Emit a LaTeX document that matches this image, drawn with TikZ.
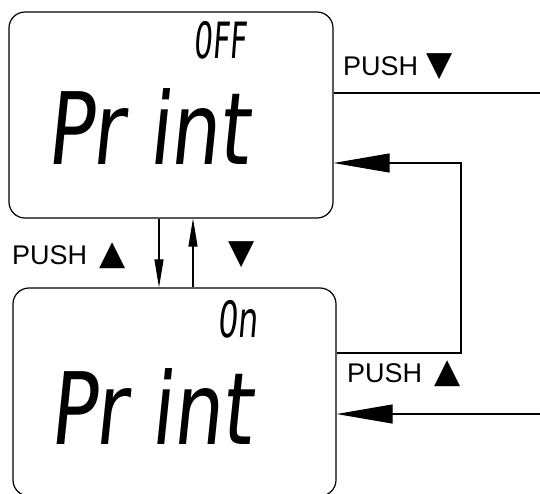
\documentclass[tikz,border=0pt]{standalone}
\usepackage{fontspec}
\setmainfont{Liberation Sans}
\newfontfamily\lcdfont[FakeSlant=0.12]{DejaVu Sans Condensed}
\newfontfamily\symfont{DejaVu Sans}
\usetikzlibrary{arrows.meta}
\newcommand{\symtri}[1]{{\symfont\fontsize{34}{34}\selectfont #1}}
\begin{document}
\begin{tikzpicture}[x=1pt,y=-1pt,
  lcd/.style={draw=black, line width=1.2pt, rounded corners=16pt, inner sep=0pt},
  conn/.style={line width=1.1pt},
  bigarrow/.style={conn, -{Triangle[length=56pt,width=19pt]}},
  smallarrow/.style={conn, -{Triangle[length=28pt,width=9pt]}},
  lbl/.style={font=\fontsize{27}{27}\selectfont, inner sep=0pt},
  big/.style={font=\lcdfont\fontsize{100}{100}\selectfont, inner sep=0pt},
  small/.style={font=\lcdfont\fontsize{50}{50}\selectfont, inner sep=0pt}]
\useasboundingbox (0,0) rectangle (540,493);
\node[lcd, minimum width=324pt, minimum height=206pt] (top) at (171,115) {};
\node[lcd, minimum width=323pt, minimum height=208pt] (bot) at (174.5,392) {};
% display texts
\node[small] (off) at (220,40) {\scalebox{0.65}[1]{0FF}};
\node[big] (p1) at (148,126.5) {\scalebox{0.86}[1]{Pr int}};
\node[small] (on) at (237,319) {\scalebox{0.7}[1]{0n}};
\node[big] (p2) at (150.5,406.5) {\scalebox{0.86}[1]{Pr int}};
% labels
\node[lbl, anchor=west] (l1) at (343,67) {PUSH\hspace{8pt}\symtri{▼}};
\node[lbl, anchor=west] (l2) at (12,256) {PUSH\hspace{12pt}\symtri{▲}};
\node[lbl] (l3) at (242,255) {\symtri{▼}};
\node[lbl, anchor=west] (l4) at (347,374) {PUSH\hspace{12pt}\symtri{▲}};
% coordinates
\coordinate (e1) at (540,93);
\coordinate (c1) at (461,353);
\coordinate (c2) at (461,163);
\coordinate (e2) at (540,414);
% connectors
\draw[conn] (top.east |- e1) -- (e1);
\draw[bigarrow] (bot.east |- c1) -- (c1) -- (c2) -- (top.east |- c2);
\draw[bigarrow] (e2) -- (bot.east |- e2);
\draw[smallarrow] (top.south -| 159,0) -- (bot.north -| 159,0);
\draw[smallarrow] (bot.north -| 193,0) -- (top.south -| 193,0);
\end{tikzpicture}
\end{document}
